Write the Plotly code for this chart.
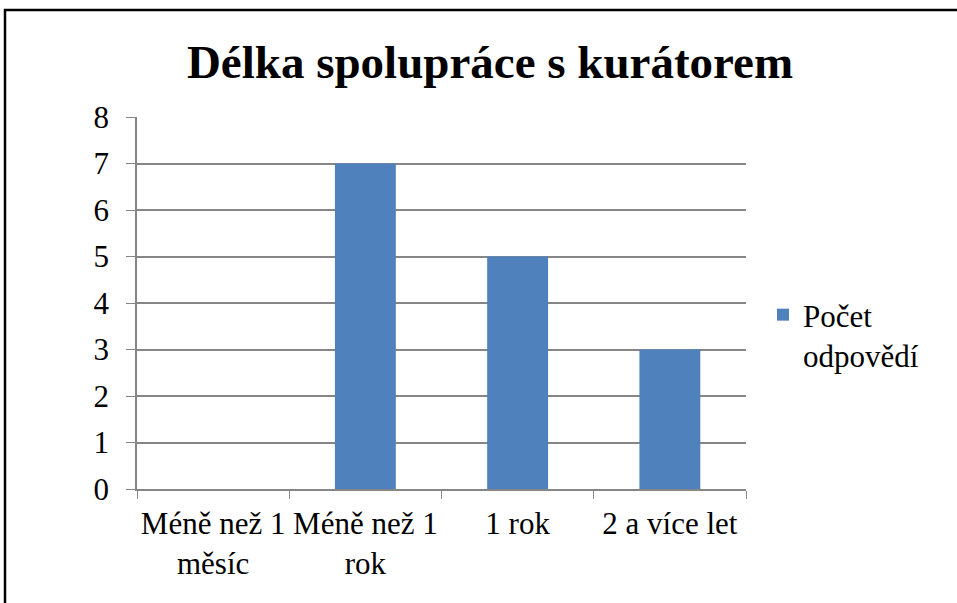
import plotly.graph_objects as go

categories = ["Méně než 1<br>měsíc", "Méně než 1<br>rok", "1 rok", "2 a více let"]
counts = [0, 7, 5, 3]
series_name = "Počet<br>odpovědí"
y_ticks = [0, 1, 2, 3, 4, 5, 6, 7, 8]

W, H = 957, 603
L, R, T, B = 137, 746, 117, 489  # plot area edges in pixels


def px_x(p):
    return (p - L) / (R - L)


def px_y(p):
    return (B - p) / (B - T)


font = "Liberation Serif"
grey = "#868686"

fig = go.Figure(
    go.Bar(
        x=categories,
        y=counts,
        name=series_name,
        marker_color="#4F81BD",
        marker_line_width=0,
    )
)

fig.update_layout(
    width=W,
    height=H,
    margin=dict(l=L, r=W - R, t=T, b=H - B, pad=0, autoexpand=False),
    paper_bgcolor="white",
    plot_bgcolor="white",
    bargap=0.6,
    font=dict(family=font, size=32, color="black"),
    title=dict(
        text="<b>Délka spolupráce s kurátorem</b>",
        font=dict(family=font, size=47, color="black"),
        x=490 / W,
        xanchor="center",
        y=1 - 62 / H,
        yanchor="middle",
    ),
    showlegend=True,
    legend=dict(
        x=px_x(763),
        y=px_y(288),
        xanchor="left",
        yanchor="top",
        valign="top",
        font=dict(family=font, size=31, color="black"),
        bgcolor="rgba(0,0,0,0)",
    ),
    shapes=[
        dict(
            type="rect",
            xref="paper",
            yref="paper",
            x0=px_x(5),
            x1=px_x(1100),
            y0=px_y(700),
            y1=px_y(10),
            line=dict(color="black", width=2.5),
            fillcolor="rgba(0,0,0,0)",
            layer="above",
        )
    ],
)

fig.update_xaxes(
    type="category",
    tickson="boundaries",
    ticks="outside",
    ticklen=8,
    tickcolor=grey,
    tickangle=0,
    automargin=False,
    ticklabelstandoff=6,
    showline=True,
    linecolor=grey,
    linewidth=1.5,
    showgrid=False,
    tickfont=dict(family=font, size=31, color="black"),
)

fig.update_yaxes(
    range=[0, 8],
    tickvals=y_ticks,
    ticks="outside",
    ticklen=9,
    tickcolor=grey,
    automargin=False,
    showline=True,
    linecolor=grey,
    linewidth=1.5,
    showgrid=True,
    gridcolor=grey,
    gridwidth=1.5,
    zeroline=False,
    ticklabelstandoff=11,
    tickfont=dict(family=font, size=31, color="black"),
)

fig.write_html(
    "out.html",
    config={"displayModeBar": False},
    post_script="document.body.style.margin = '0';",
)
